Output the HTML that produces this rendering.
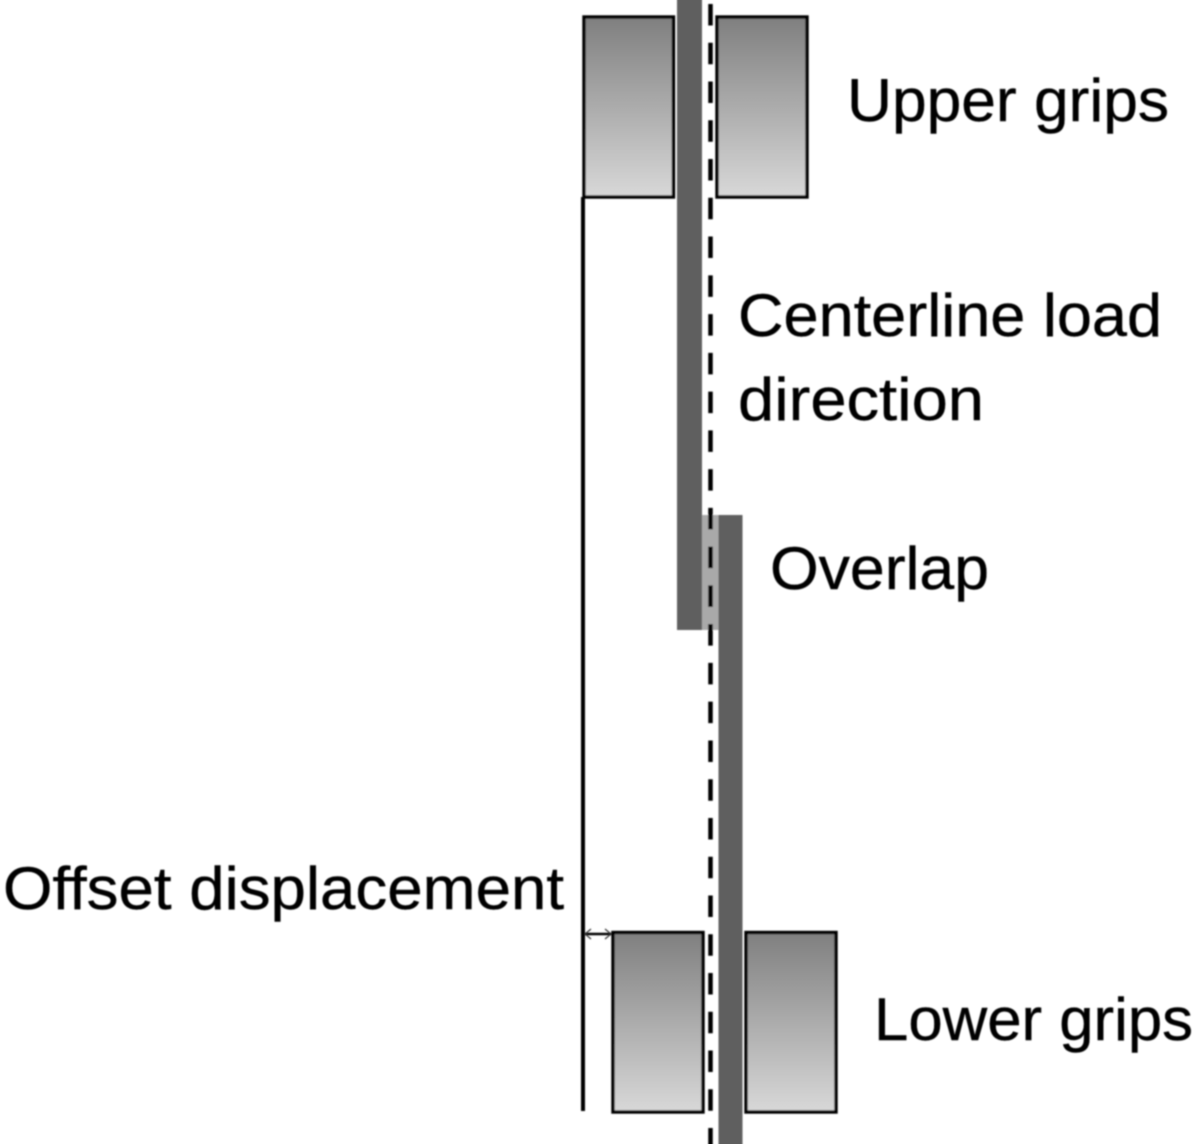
<!DOCTYPE html>
<html><head><meta charset="utf-8"><style>
html,body{margin:0;padding:0;background:#fff}
svg{display:block}
text{font-family:"Liberation Sans",sans-serif;font-size:60px;fill:#000;stroke:#000;stroke-width:0.4}
</style></head><body>
<svg width="1200" height="1144" viewBox="0 0 1200 1144" xmlns="http://www.w3.org/2000/svg">
<defs>
<linearGradient id="g" x1="0" y1="0" x2="0" y2="1"><stop offset="0" stop-color="#7f7f7f"/><stop offset="1" stop-color="#d8d8d8"/></linearGradient>
<filter id="b" x="-5%" y="-5%" width="110%" height="110%"><feGaussianBlur stdDeviation="0.8"/></filter>
</defs>
<g filter="url(#b)">
<rect x="702" y="515" width="17" height="115" fill="#a9a9a9"/>
<rect x="677" y="-5" width="25" height="635" fill="#5f5f5f"/>
<rect x="718.5" y="515" width="24" height="640" fill="#5f5f5f"/>
<line x1="710.5" y1="4" x2="710.5" y2="1150" stroke="#000" stroke-width="4.5" stroke-dasharray="21.5 17.26"/>
<g stroke="#000" stroke-width="3.4" fill="url(#g)">
<rect x="584" y="17" width="89.5" height="180"/>
<rect x="717" y="17" width="90" height="180"/>
<rect x="613" y="932.5" width="90" height="179.5"/>
<rect x="746" y="932.5" width="90" height="179.5"/>
</g>
<line x1="583" y1="197" x2="583" y2="1111" stroke="#000" stroke-width="4"/>
<line x1="584" y1="934" x2="612" y2="934" stroke="#000" stroke-width="2.4"/>
<path d="M591 929l-6 5 6 5M605 929l6 5-6 5" fill="none" stroke="#333" stroke-width="1.2"/>
<text x="847" y="121" textLength="322" lengthAdjust="spacingAndGlyphs">Upper grips</text>
<text x="738" y="336" textLength="424" lengthAdjust="spacingAndGlyphs">Centerline load</text>
<text x="738" y="420" textLength="246" lengthAdjust="spacingAndGlyphs">direction</text>
<text x="770" y="589" textLength="219" lengthAdjust="spacingAndGlyphs">Overlap</text>
<text x="3" y="909" textLength="561" lengthAdjust="spacingAndGlyphs">Offset displacement</text>
<text x="874" y="1040" textLength="319" lengthAdjust="spacingAndGlyphs">Lower grips</text>
</g>
</svg>
</body></html>
